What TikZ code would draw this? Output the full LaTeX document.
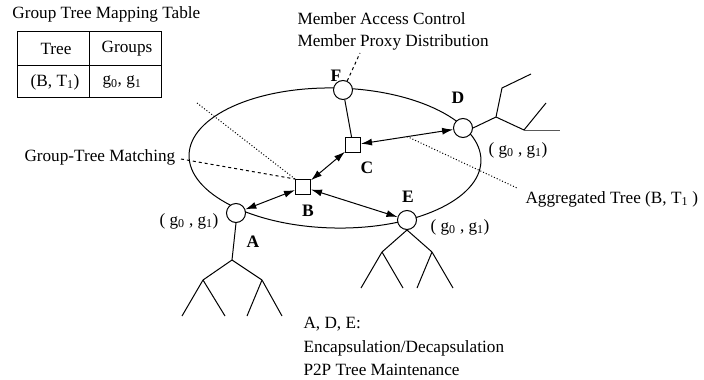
\documentclass[tikz,border=0pt]{standalone}
\usepackage{fontspec}
\setmainfont{Liberation Serif}
\usetikzlibrary{arrows.meta,calc}
\begin{document}
\begin{tikzpicture}[x=1pt,y=-1pt, line width=1pt,
 peer/.style={circle,draw,fill=white,minimum size=19pt,inner sep=0pt},
 hub/.style={rectangle,draw,fill=white,minimum size=15pt,inner sep=0pt},
 lbl/.style={font=\fontsize{17.5}{20}\selectfont\bfseries, inner sep=0pt},
 txt/.style={font=\fontsize{17.2}{22}\selectfont, inner sep=0pt},
 biarrow/.style={{Latex[length=11pt,width=7pt]}-{Latex[length=11pt,width=7pt]}},
 branch/.style={line width=1pt},
 ]
\useasboundingbox (0,0) rectangle (704,380);

% title and table
\node[txt, anchor=base west] (title) at (12,18) {Group Tree Mapping Table};
\draw (17,31) rectangle (161,97);
\draw (17,65) -- (161,65);
\draw (89,31) -- (89,97);
\node[txt] (th1) at (56,49) {Tree};
\node[txt] (th2) at (127,49) {Groups};
\node[txt] (tc1) at (55,82) {(B, T\textsubscript{1})};
\node[txt] (tc2) at (122,82) {g\textsubscript{0}, g\textsubscript{1}};

% ring
\draw[rotate around={-1.2:(335,158)}] (335,158) ellipse [x radius=146, y radius=70];

% nodes
\node[peer] (F) at (343,90) {};
\node[peer] (D) at (463,128) {};
\node[peer] (A) at (236,213) {};
\node[peer] (E) at (407,220) {};
\node[hub] (B) at (303,187) {};
\node[hub] (C) at (353,145) {};

\node[lbl] (lF) at (336,76) {F};
\node[lbl] (lD) at (458,98) {D};
\node[lbl] (lC) at (367,168) {C};
\node[lbl] (lB) at (308,211) {B};
\node[lbl] (lE) at (408,197) {E};
\node[lbl] (lA) at (253,242) {A};

% connectors
\draw (F) -- (C);
\draw[biarrow] (C) -- (D);
\draw[biarrow] (B) -- (C);
\draw[biarrow] (A) -- (B);
\draw[biarrow] (B) -- (E);

% group labels
\node[txt] (gA) at (189,221) {( g\textsubscript{0} , g\textsubscript{1})};
\node[txt] (gD) at (518,150) {( g\textsubscript{0} , g\textsubscript{1})};
\node[txt] (gE) at (460,227) {( g\textsubscript{0} , g\textsubscript{1})};

% annotation texts
\node[txt, anchor=base west] (mac) at (297,24) {Member Access Control};
\node[txt, anchor=base west] (mpd) at (297,46) {Member Proxy Distribution};
\node[txt, anchor=base west] (gtm) at (24,161) {Group-Tree Matching};
\node[txt, anchor=base west] (agg) at (525,203) {Aggregated Tree (B, T\textsubscript{1} )};
\node[txt, anchor=base west] (ade1) at (303,328) {A, D, E:};
\node[txt, anchor=base west] (ade2) at (303,352) {Encapsulation/Decapsulation};
\node[txt, anchor=base west] (ade3) at (303,375) {P2P Tree Maintenance};

% annotation leaders
\coordinate (fl) at (360,53);
\draw[dashed] (F.65) -- (fl);
\coordinate (gl) at (181,159);
\draw[dashed] (gl) -- (B.north west);
\coordinate (dl) at (197,103);
\draw[dotted] (dl) -- (B.north west);
\coordinate (cd) at ($(C.east)!0.5!(D.west)$);
\coordinate (al) at (517,188);
\draw[dotted] (cd) -- (al);

% tree under A
\coordinate (a0) at (232,260);
\coordinate (a1) at (203,280);
\coordinate (a2) at (262,280);
\draw[branch] (A.south) -- (a0);
\draw[branch] (a0) -- (a1) (a0) -- (a2);
\draw[branch] (a1) -- (182,316) (a1) -- (225,316);
\draw[branch] (a2) -- (247,316) (a2) -- (282,316);

% tree under E
\coordinate (e1) at (382,252);
\coordinate (e2) at (432,252);
\draw[branch] (E.south) -- (e1) (E.south) -- (e2);
\draw[branch] (e1) -- (361,288) (e1) -- (403,288);
\draw[branch] (e2) -- (417,288) (e2) -- (453,288);

% tree at D
\coordinate (d0) at (496,117);
\coordinate (d1) at (502,88);
\coordinate (d2) at (524,130);
\draw[branch] (D.east) -- (d0);
\draw[branch] (d0) -- (d1) -- (531,74);
\draw[branch] (d0) -- (d2) -- (546,103);
\draw[branch, black!65] (d2) -- (560,130);
\end{tikzpicture}
\end{document}
